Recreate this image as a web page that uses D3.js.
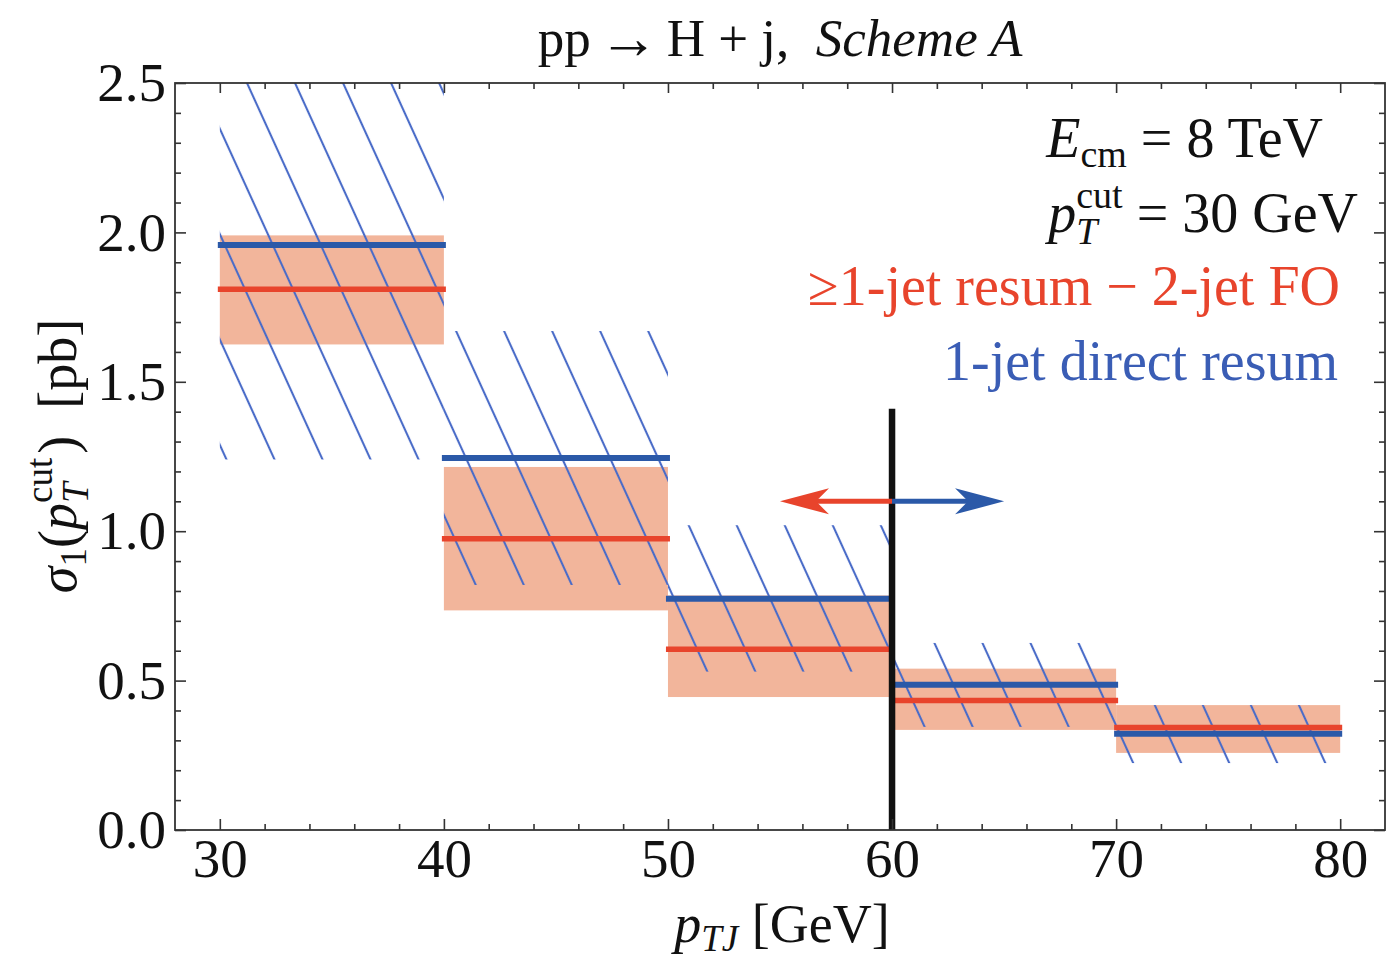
<!DOCTYPE html>
<html><head><meta charset="utf-8">
<script src="https://cdn.jsdelivr.net/npm/d3@7"></script>
<style>
body{margin:0;background:#fff;}
text{font-family:"Liberation Serif","Times New Roman",serif;fill:#111;}
</style></head><body>
<svg id="chart" width="1389" height="963"></svg>
<script>
// ---------------- data ----------------
const binEdges   = [30, 40, 50, 60, 70, 80];
const redCentral = [1.81, 0.975, 0.605, 0.433, 0.343];
const redLow     = [1.625, 0.735, 0.445, 0.335, 0.258];
const redHigh    = [1.99, 1.215, 0.785, 0.54, 0.418];
const blueCentral= [1.958, 1.245, 0.774, 0.486, 0.322];
const blueLow    = [1.24, 0.82, 0.53, 0.345, 0.224];
const blueHigh   = [2.7, 1.67, 1.02, 0.626, 0.418];
const thresholdX = 60, thresholdTop = 1.41;
const arrowY = 1.1;
const arrows = [{from: 60, to: 55, series: "red"}, {from: 60, to: 65, series: "blue"}];
const xDomain = [28, 82], yDomain = [0, 2.5];
const xMajor = [30, 40, 50, 60, 70, 80];
const xMinor = [32, 34, 36, 38, 42, 44, 46, 48, 52, 54, 56, 58, 62, 64, 66, 68, 72, 74, 76, 78];
const yMajor = [0, 0.5, 1.0, 1.5, 2.0, 2.5];
const yMinor = [0.1,0.2,0.3,0.4,0.6,0.7,0.8,0.9,1.1,1.2,1.3,1.4,1.6,1.7,1.8,1.9,2.1,2.2,2.3,2.4];

const RED = "#e8442c", BLUE = "#2b59a8", FILL = "#f2b59b", HATCH = "#4a6cc8";
const BLUE_TXT = "#3a5db5";

// ---------------- setup ----------------
const svg = d3.select("#chart");
const X0 = 175, X1 = 1385, Y0 = 830, Y1 = 83;
const x = d3.scaleLinear().domain(xDomain).range([X0, X1]);
const y = d3.scaleLinear().domain(yDomain).range([Y0, Y1]);

const defs = svg.append("defs");
defs.append("clipPath").attr("id", "plotclip").append("rect")
  .attr("x", X0).attr("y", Y1).attr("width", X1 - X0).attr("height", Y0 - Y1);
const hatchW = 43.7;
const pat = defs.append("pattern").attr("id", "hatch")
  .attr("patternUnits", "userSpaceOnUse")
  .attr("width", hatchW).attr("height", 200)
  .attr("patternTransform", `translate(247,83) rotate(-24.5) translate(${-hatchW/2},0)`);
pat.append("line").attr("x1", hatchW/2).attr("x2", hatchW/2).attr("y1", -5).attr("y2", 205)
  .attr("stroke", HATCH).attr("stroke-width", 2.1);

const bins = d3.range(binEdges.length - 1).map(i => ({
  x0: binEdges[i], x1: binEdges[i+1],
  rc: redCentral[i], rl: redLow[i], rh: redHigh[i],
  bc: blueCentral[i], bl: blueLow[i], bh: blueHigh[i]
}));

const plot = svg.append("g").attr("clip-path", "url(#plotclip)");

plot.selectAll("rect.band").data(bins).join("rect").attr("class", "band")
  .attr("x", d => x(d.x0)).attr("width", d => x(d.x1) - x(d.x0))
  .attr("y", d => y(d.rh)).attr("height", d => y(d.rl) - y(d.rh))
  .attr("fill", FILL);
plot.selectAll("rect.hatch").data(bins).join("rect").attr("class", "hatch")
  .attr("x", d => x(d.x0)).attr("width", d => x(d.x1) - x(d.x0))
  .attr("y", d => y(d.bh)).attr("height", d => y(d.bl) - y(d.bh))
  .attr("fill", "url(#hatch)");
plot.selectAll("line.blue").data(bins).join("line").attr("class", "blue")
  .attr("x1", d => x(d.x0) - 2).attr("x2", d => x(d.x1) + 2)
  .attr("y1", d => y(d.bc)).attr("y2", d => y(d.bc))
  .attr("stroke", BLUE).attr("stroke-width", 6);
plot.selectAll("line.red").data(bins).join("line").attr("class", "red")
  .attr("x1", d => x(d.x0) - 2).attr("x2", d => x(d.x1) + 2)
  .attr("y1", d => y(d.rc)).attr("y2", d => y(d.rc))
  .attr("stroke", RED).attr("stroke-width", 5.5);

svg.append("line").attr("x1", x(thresholdX)).attr("x2", x(thresholdX))
  .attr("y1", y(thresholdTop)).attr("y2", y(0))
  .attr("stroke", "#111").attr("stroke-width", 6.5);

arrows.forEach(a => {
  const col = a.series === "red" ? RED : BLUE;
  const xs = x(a.from), xt = x(a.to), yy = y(arrowY);
  const dir = Math.sign(xt - xs);
  const L = 49, Hh = 13, notch = 13;
  svg.append("line").attr("x1", xs).attr("x2", xt - dir * (L - notch))
    .attr("y1", yy).attr("y2", yy).attr("stroke", col).attr("stroke-width", 5);
  svg.append("path")
    .attr("d", `M${xt},${yy} L${xt - dir*L},${yy - Hh} L${xt - dir*(L - notch)},${yy} L${xt - dir*L},${yy + Hh} Z`)
    .attr("fill", col);
});

// ---------------- axes ----------------
function styleAxis(g) {
  g.select(".domain").remove();
  g.selectAll(".tick line").attr("stroke", "#333").attr("stroke-width", 1.6);
  g.selectAll("text").attr("font-size", 55).attr("fill", "#111")
    .attr("font-family", '"Liberation Serif","Times New Roman",serif');
}
svg.append("g").attr("transform", `translate(0,${Y0})`)
  .call(d3.axisBottom(x).tickValues(xMajor).tickSize(-11).tickPadding(8).tickFormat(d => d)).call(styleAxis);
svg.append("g").attr("transform", `translate(0,${Y0})`)
  .call(d3.axisBottom(x).tickValues(xMinor).tickSize(-6).tickFormat("")).call(styleAxis);
svg.append("g").attr("transform", `translate(0,${Y1})`)
  .call(d3.axisTop(x).tickValues(xMajor).tickSize(-10).tickFormat("")).call(styleAxis);
svg.append("g").attr("transform", `translate(0,${Y1})`)
  .call(d3.axisTop(x).tickValues(xMinor).tickSize(-6).tickFormat("")).call(styleAxis);
svg.append("g").attr("transform", `translate(${X0},0)`)
  .call(d3.axisLeft(y).tickValues(yMajor).tickSize(-11).tickPadding(9).tickFormat(d3.format(".1f"))).call(styleAxis);
svg.append("g").attr("transform", `translate(${X0},0)`)
  .call(d3.axisLeft(y).tickValues(yMinor).tickSize(-6).tickFormat("")).call(styleAxis);
svg.append("g").attr("transform", `translate(${X1},0)`)
  .call(d3.axisRight(y).tickValues(yMajor).tickSize(-11).tickFormat("")).call(styleAxis);
svg.append("g").attr("transform", `translate(${X1},0)`)
  .call(d3.axisRight(y).tickValues(yMinor).tickSize(-6).tickFormat("")).call(styleAxis);

svg.append("rect").attr("x", X0).attr("y", Y1).attr("width", X1 - X0).attr("height", Y0 - Y1)
  .attr("fill", "none").attr("stroke", "#333").attr("stroke-width", 1.8);

// ---------------- text ----------------
function measure(str, size, italic) {
  const t = svg.append("text").attr("font-size", size).attr("font-style", italic ? "italic" : "normal").text(str);
  const w = t.node().getComputedTextLength(); t.remove(); return w;
}

const title = svg.append("text").attr("x", 780).attr("y", 56).attr("text-anchor", "middle").attr("font-size", 53);
title.append("tspan").text("pp");
title.append("tspan").attr("font-size", 60).attr("dx", 8).attr("dy", 2).text("\u2192");
title.append("tspan").attr("dx", 8).attr("dy", -2).text("H + j,\u00a0\u00a0");
title.append("tspan").attr("font-style", "italic").text("Scheme A");

const LS = 56, SS = 38;
const t1 = svg.append("text").attr("x", 1323).attr("y", 157).attr("text-anchor", "end").attr("font-size", LS);
t1.append("tspan").attr("font-style", "italic").text("E");
t1.append("tspan").attr("font-size", SS).attr("dy", 10).text("cm");
t1.append("tspan").attr("dy", -10).text(" = 8 TeV");

const cutW = measure("cut", SS, false), TW = measure("T", SS, true);
const t2 = svg.append("text").attr("x", 1358).attr("y", 232).attr("text-anchor", "end").attr("font-size", LS);
t2.append("tspan").attr("font-style", "italic").text("p");
t2.append("tspan").attr("font-size", SS).attr("dy", -24).text("cut");
t2.append("tspan").attr("font-size", SS).attr("font-style", "italic").attr("dx", -cutW).attr("dy", 36).text("T");
t2.append("tspan").attr("dx", cutW - TW).attr("dy", -12).text(" = 30 GeV");

svg.append("text").attr("x", 1340).attr("y", 305).attr("text-anchor", "end").attr("font-size", LS)
  .style("fill", RED).text("\u22651-jet resum \u2212 2-jet FO");
svg.append("text").attr("x", 1338).attr("y", 380).attr("text-anchor", "end").attr("font-size", LS)
  .style("fill", BLUE_TXT).text("1-jet direct resum");

const YS = 54, YSS = 37;
const cutW2 = measure("cut", YSS, false), TW2 = measure("T", YSS, true);
const yl = svg.append("text").attr("transform", "translate(76,456) rotate(-90)")
  .attr("text-anchor", "middle").attr("font-size", YS);
yl.append("tspan").attr("font-style", "italic").text("\u03c3");
yl.append("tspan").attr("font-size", YSS).attr("dy", 10).text("1");
yl.append("tspan").attr("dy", -10).text("(");
yl.append("tspan").attr("font-style", "italic").text("p");
yl.append("tspan").attr("font-size", YSS).attr("dy", -24).text("cut");
yl.append("tspan").attr("font-size", YSS).attr("font-style", "italic").attr("dx", -cutW2).attr("dy", 36).text("T");
yl.append("tspan").attr("dx", cutW2 - TW2 + 4).attr("dy", -12).text(")\u00a0\u00a0[pb]");

const xl = svg.append("text").attr("x", 782).attr("y", 942).attr("text-anchor", "middle").attr("font-size", 54);
xl.append("tspan").attr("font-style", "italic").text("p");
xl.append("tspan").attr("font-style", "italic").attr("font-size", 37).attr("dy", 9).text("TJ");
xl.append("tspan").attr("dy", -9).text(" [GeV]");
</script></body></html>
